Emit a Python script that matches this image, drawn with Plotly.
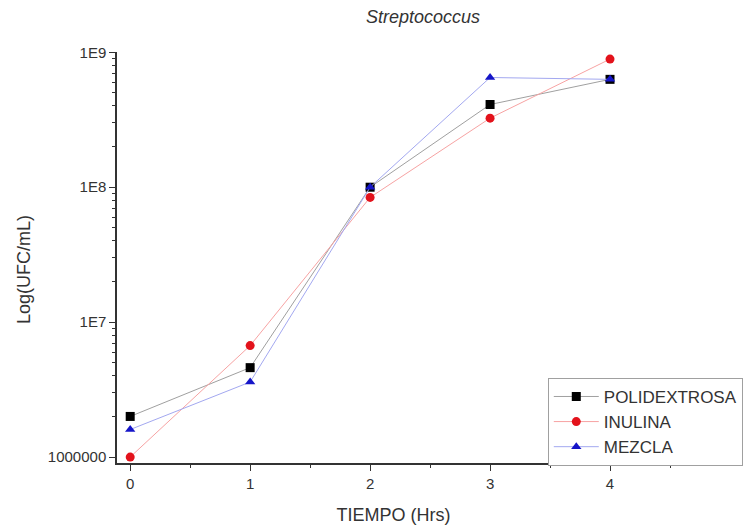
import plotly.graph_objects as go

# Growth of Streptococcus over time for each prebiotic
tiempo = [0, 1, 2, 3, 4]
polidextrosa = [2.0e6, 4.6e6, 1.0e8, 4.1e8, 6.3e8]
inulina = [1.0e6, 6.7e6, 8.4e7, 3.25e8, 8.9e8]
mezcla = [1.6e6, 3.6e6, 1.0e8, 6.5e8, 6.3e8]

y_tickvals = [1e6, 1e7, 1e8, 1e9]
y_ticktext = ["1000000", "1E7", "1E8", "1E9"]
y_minor = [m * 10 ** e for e in range(6, 9) for m in range(2, 10)]

FONT = "Liberation Sans, Arial, sans-serif"
AXIS = "#333333"
TEXT = "#333333"

fig = go.Figure()

series = [
    ("POLIDEXTROSA", polidextrosa, "#a0a0a0", "#000000", "square"),
    ("INULINA", inulina, "#f7a3a3", "#e3121b", "circle"),
    ("MEZCLA", mezcla, "#a3a8f0", "#1515c8", "triangle-up"),
]
for name, vals, line_col, mk_col, sym in series:
    fig.add_trace(go.Scatter(
        x=tiempo, y=vals, name=name, mode="lines+markers",
        line=dict(color=line_col, width=1),
        marker=dict(color=mk_col, symbol=sym, size=9),
        cliponaxis=False,
    ))

fig.update_layout(
    width=748, height=527,
    margin=dict(l=117, r=78, t=52, b=64, autoexpand=False),
    paper_bgcolor="white", plot_bgcolor="white",
    font=dict(family=FONT, color=TEXT),
    showlegend=True,
    legend=dict(
        x=0.779, y=0.207, xanchor="left", yanchor="top",
        bgcolor="white", bordercolor="#a0a0a0", borderwidth=1,
        font=dict(family=FONT, size=17, color=TEXT),
        tracegroupgap=0, itemwidth=45,
    ),
)

# Pixel positions converted to paper coordinates
pw, ph = 748 - 117 - 78, 527 - 52 - 64
fig.add_annotation(
    text="<i>Streptococcus</i>", x=(423 - 117) / pw, y=(463 - 17) / ph,
    xref="paper", yref="paper", showarrow=False, xanchor="center", yanchor="middle",
    font=dict(family=FONT, size=18, color=TEXT),
)
fig.add_annotation(
    text="Log(UFC/mL)", textangle=-90, x=(24 - 117) / pw, y=(463 - 270) / ph,
    xref="paper", yref="paper", showarrow=False, xanchor="center", yanchor="middle",
    font=dict(family=FONT, size=18, color=TEXT),
)

fig.update_xaxes(
    range=[-0.11, 4.5], tickvals=tiempo, ticks="outside", ticklen=6, tickwidth=1,
    tickcolor=AXIS, showline=True, linecolor=AXIS, linewidth=1.5, showgrid=False,
    zeroline=False, tickfont=dict(size=15, color=TEXT),
    minor=dict(tickvals=[0.5, 1.5, 2.5, 3.5, 4.5], ticks="outside", ticklen=3,
               tickcolor=AXIS, showgrid=False),
    title=dict(text="TIEMPO (Hrs)", font=dict(size=18, color=TEXT), standoff=18),
)
fig.update_yaxes(
    type="log", range=[5.956, 9.002], tickvals=y_tickvals, ticktext=y_ticktext,
    ticks="outside", ticklen=6, tickwidth=1, tickcolor=AXIS,
    showline=True, linecolor=AXIS, linewidth=1.5, showgrid=False, zeroline=False,
    tickfont=dict(size=15, color=TEXT),
    minor=dict(tickvals=y_minor, ticks="outside", ticklen=3, tickcolor=AXIS,
               showgrid=False),
)

fig.write_html("out.html")
